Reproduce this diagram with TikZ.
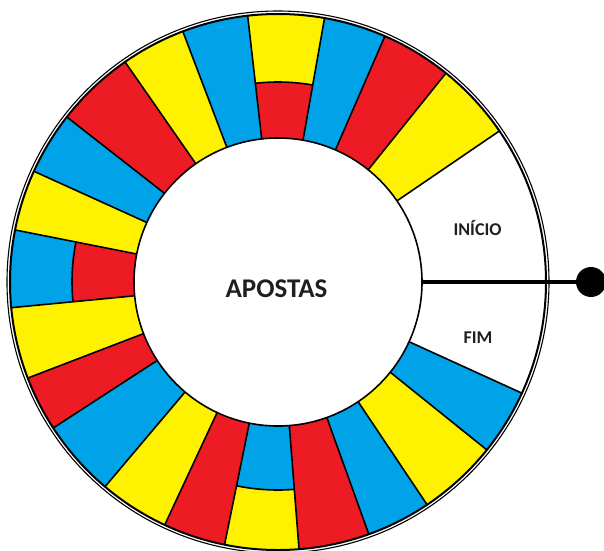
\documentclass[tikz,border=0pt]{standalone}
\usepackage{fontspec}
\setmainfont{Carlito}
\definecolor{wy}{HTML}{FFF200}
\definecolor{wr}{HTML}{ED1C24}
\definecolor{wb}{HTML}{00A2E8}
\tikzset{
  divline/.style={line width=1.6pt, black},
  lbl/.style={inner sep=0pt, text=black!88, font=\bfseries\fontsize{18}{18}\selectfont},
}
\begin{document}
\begin{tikzpicture}[x=1pt,y=1pt]
\useasboundingbox (-278,-268) rectangle (326,282);
% plain sectors
\foreach \a/\b/\c in {34.3/51.2/wy, 51.2/66.5/wr, 66.5/80/wb, 96.5/110.8/wb, 110.8/124.8/wy, 124.8/142/wr, 142/155.6/wb, 155.6/168.8/wy, 185.5/201/wy, 201/213/wr, 213/229.8/wb, 229.8/245/wy, 245/258.5/wr, 274.5/289.8/wr, 289.8/303.8/wb, 303.8/321.2/wy, 321.2/335.5/wb}{
  \fill[\c] (\a:144pt) arc[start angle=\a,end angle=\b,radius=144pt] -- (\b:268pt) arc[start angle=\b,end angle=\a,radius=268pt] -- cycle;
}
% two-tone sectors
\foreach \a/\b/\s/\ci/\co in {80/96.5/200/wr/wy, 168.8/185.5/206/wr/wb, 258.5/274.5/208/wb/wy}{
  \fill[\ci] (\a:144pt) arc[start angle=\a,end angle=\b,radius=144pt] -- (\b:\s pt) arc[start angle=\b,end angle=\a,radius=\s pt] -- cycle;
  \fill[\co] (\a:\s pt) arc[start angle=\a,end angle=\b,radius=\s pt] -- (\b:268pt) arc[start angle=\b,end angle=\a,radius=268pt] -- cycle;
  \draw[divline] (\a:\s pt) arc[start angle=\a,end angle=\b,radius=\s pt];
}
% radial dividers
\foreach \a in {34.3, 51.2, 66.5, 80, 96.5, 110.8, 124.8, 142, 155.6, 168.8, 185.5, 201, 213, 229.8, 245, 258.5, 274.5, 289.8, 303.8, 321.2, 335.5}{
  \draw[divline] (\a:144pt) -- (\a:268pt);
}
% outer double rim
\draw[line width=2pt] (0,0) circle[radius=268pt];
\draw[line width=1.1pt] (0,0) circle[radius=271pt];
% hub
\node[circle, draw, line width=1.6pt, fill=white, minimum size=288pt, inner sep=0pt] (hub) at (0,0) {};
\node[lbl, font=\bfseries\fontsize{27}{27}\selectfont] (apostas) at (-1.5,-7) {APOSTAS};
\node[lbl] (inicio) at (199.5,54) {INÍCIO};
\node[lbl] (fim) at (200,-55.5) {FIM};
% pointer
\node[circle, fill=black, minimum size=30pt, inner sep=0pt] (dot) at (313,0) {};
\draw[line width=4.5pt] (hub.east) -- (dot.center);
\end{tikzpicture}
\end{document}
